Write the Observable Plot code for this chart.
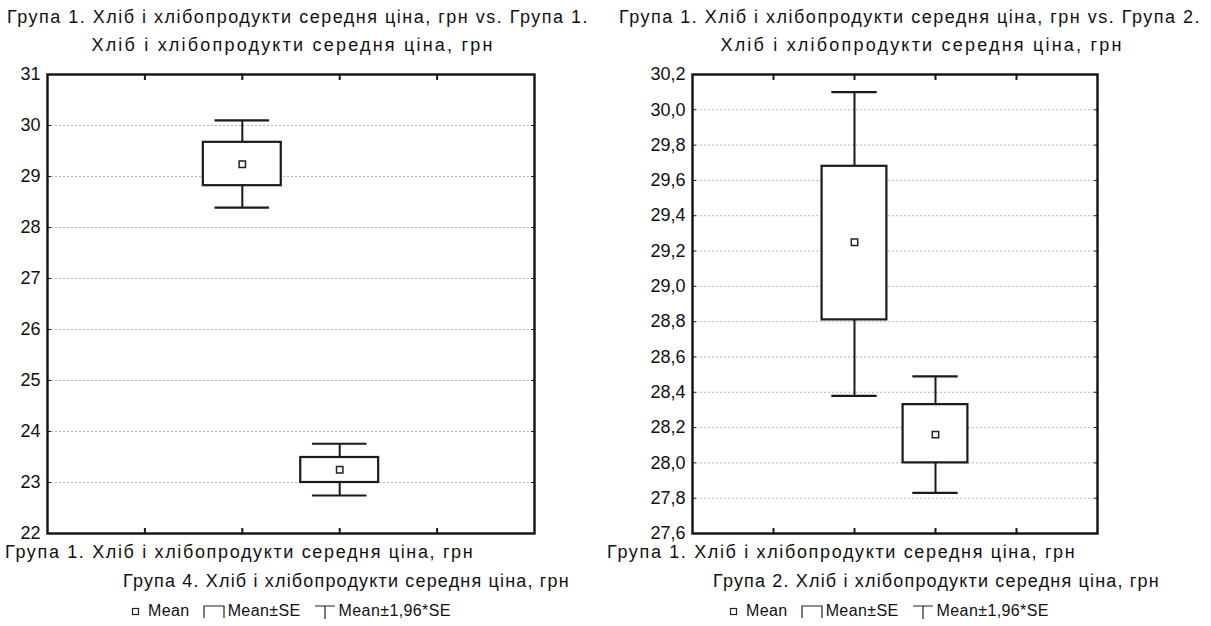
<!DOCTYPE html>
<html>
<head>
<meta charset="utf-8">
<script src="https://cdn.jsdelivr.net/npm/d3@7"></script>
<script src="https://cdn.jsdelivr.net/npm/@observablehq/plot@0.6"></script>
<style>
  html, body { margin: 0; padding: 0; background: #fff; }
  #root { position: relative; width: 1211px; height: 626px; background: #fff; overflow: hidden;
          font-family: "Liberation Sans", Arial, sans-serif; color: #111; }
  .abs { position: absolute; white-space: nowrap; }
  .title { text-align: center; font-size: 18px; line-height: 20px; width: 600px; }
  .ta { letter-spacing: 1.5px; top: 7px; }
  .tb { letter-spacing: 2.2px; top: 35px; }
  .xlab { font-size: 18px; line-height: 18px; letter-spacing: 1.65px; }
  .xlab2 { font-size: 18px; line-height: 18px; letter-spacing: 1.17px; }
  .legend { font-size: 16px; letter-spacing: 0.4px; display: flex; align-items: center; }
  .legend svg { margin: 0 2px; }
  .chart { position: absolute; }
</style>
</head>
<body>
<div id="root">
  <div class="abs title ta" id="t1a" style="left:-2px;"></div>
  <div class="abs title tb" id="t1b" style="left:-7px;"></div>
  <div class="abs title ta" id="t2a" style="left:610px;"></div>
  <div class="abs title tb" id="t2b" style="left:622px;"></div>
  <div class="chart" id="c1" style="left:0;top:60px;"></div>
  <div class="chart" id="c2" style="left:600px;top:60px;"></div>
  <div class="abs xlab" id="x1a" style="left:5px;top:543px;"></div>
  <div class="abs xlab2" id="x1b" style="left:123px;top:572px;"></div>
  <div class="abs xlab" id="x2a" style="left:607px;top:543px;"></div>
  <div class="abs xlab2" id="x2b" style="left:713px;top:572px;"></div>
  <div class="abs legend" id="l1" style="left:128px;top:602px;"></div>
  <div class="abs legend" id="l2" style="left:726px;top:602px;"></div>
</div>
<script>
// ---- Data ----
const varName = "Хліб і хлібопродукти середня ціна, грн";

// Left panel: Група 1 vs. Група 4
const leftGroups = ["Група 1", "Група 4"];
const leftMean   = [29.24, 23.25];
const leftSeLow  = [28.82, 23.00];
const leftSeHigh = [29.67, 23.49];
const leftCiLow  = [28.39, 22.745];
const leftCiHigh = [30.10, 23.76];
const leftYTicks = [22, 23, 24, 25, 26, 27, 28, 29, 30, 31];

// Right panel: Група 1 vs. Група 2
const rightGroups = ["Група 1", "Група 2"];
const rightMean   = [29.25, 28.16];
const rightSeLow  = [28.81, 28.00];
const rightSeHigh = [29.68, 28.33];
const rightCiLow  = [28.38, 27.83];
const rightCiHigh = [30.10, 28.49];
const rightYTicks = [27.6, 27.8, 28.0, 28.2, 28.4, 28.6, 28.8, 29.0, 29.2, 29.4, 29.6, 29.8, 30.0, 30.2];

const xTicks = [1, 2, 3, 4];
const legendLabels = ["Mean", "Mean±SE", "Mean±1,96*SE"];

// ---- Texts ----
document.getElementById("t1a").textContent = `Група 1. ${varName} vs. Група 1.`;
document.getElementById("t1b").textContent = varName;
document.getElementById("t2a").textContent = `Група 1. ${varName} vs. Група 2.`;
document.getElementById("t2b").textContent = varName;
document.getElementById("x1a").textContent = `${leftGroups[0]}. ${varName}`;
document.getElementById("x1b").textContent = `${leftGroups[1]}. ${varName}`;
document.getElementById("x2a").textContent = `${rightGroups[0]}. ${varName}`;
document.getElementById("x2b").textContent = `${rightGroups[1]}. ${varName}`;

function legendHTML() {
  const sq = `<svg width="12" height="12"><rect x="2.5" y="3.5" width="6" height="6" fill="white" stroke="#222" stroke-width="1.2"/></svg>`;
  const box = `<svg width="24" height="16"><path d="M2,15 V3 H22 V15" fill="none" stroke="#222" stroke-width="1.2"/></svg>`;
  const tee = `<svg width="24" height="16"><path d="M2,3 H22 M12,3 V16" fill="none" stroke="#222" stroke-width="1.2"/></svg>`;
  return `${sq}<span style="margin-left:4px;margin-right:10px">${legendLabels[0]}</span>${box}<span style="margin-right:10px">${legendLabels[1]}</span>${tee}<span>${legendLabels[2]}</span>`;
}
document.getElementById("l1").innerHTML = legendHTML();
document.getElementById("l2").innerHTML = legendHTML();

// ---- Charts ----
function panel({groups, mean, seLo, seHi, ciLo, ciHi, yDomain, yTicks, fmt, width, marginLeft, marginRight}) {
  const rows = groups.map((g, i) => ({
    g, pos: i + 2, mean: mean[i], seLo: seLo[i], seHi: seHi[i], ciLo: ciLo[i], ciHi: ciHi[i]
  }));
  const ink = "#1a1a1a";
  return Plot.plot({
    width, height: 480,
    marginLeft, marginRight, marginTop: 14, marginBottom: 7,
    x: {domain: [0, 5], axis: null, label: null},
    y: {domain: yDomain, axis: null, label: null},
    style: {fontFamily: "'Liberation Sans', Arial, sans-serif", fontSize: "18px", color: "#111", background: "white", overflow: "visible"},
    marks: [
      Plot.gridY(yTicks, {stroke: "#b5b5b5", strokeOpacity: 1, strokeDasharray: "2,2", strokeWidth: 1}),
      Plot.ruleX(rows, {x: "pos", y1: "ciLo", y2: "ciHi", stroke: ink, strokeWidth: 2}),
      Plot.ruleY(rows, {y: "ciHi", x1: d => d.pos - 0.28, x2: d => d.pos + 0.28, stroke: ink, strokeWidth: 2.2}),
      Plot.ruleY(rows, {y: "ciLo", x1: d => d.pos - 0.28, x2: d => d.pos + 0.28, stroke: ink, strokeWidth: 2.2}),
      Plot.rect(rows, {x1: d => d.pos - 0.4, x2: d => d.pos + 0.4, y1: "seLo", y2: "seHi", fill: "white", stroke: ink, strokeWidth: 2.2}),
      Plot.dot(rows, {x: "pos", y: "mean", symbol: "square", r: 3.6, fill: "white", stroke: "#222", strokeWidth: 1.5}),
      Plot.axisY(yTicks, {anchor: "left", tickSize: 0, tickPadding: 7, tickFormat: fmt, fontSize: 18, fill: "#111", label: null}),
      Plot.axisY(yTicks, {anchor: "left", tickSize: -4, tickFormat: () => "", stroke: ink, label: null}),
      Plot.axisY(yTicks, {anchor: "right", tickSize: -4, tickFormat: () => "", stroke: ink, label: null}),
      Plot.axisX(xTicks, {anchor: "bottom", tickSize: -5, tickFormat: () => "", stroke: ink, strokeWidth: 2, label: null}),
      Plot.axisX(xTicks, {anchor: "top", tickSize: -5, tickFormat: () => "", stroke: ink, strokeWidth: 2, label: null}),
      Plot.frame({stroke: "#111", strokeWidth: 2.4})
    ]
  });
}

document.getElementById("c1").append(panel({
  groups: leftGroups, mean: leftMean, seLo: leftSeLow, seHi: leftSeHigh, ciLo: leftCiLow, ciHi: leftCiHigh,
  yDomain: [22, 31], yTicks: leftYTicks, fmt: d => String(d),
  width: 600, marginLeft: 47, marginRight: 66
}));
document.getElementById("c2").append(panel({
  groups: rightGroups, mean: rightMean, seLo: rightSeLow, seHi: rightSeHigh, ciLo: rightCiLow, ciHi: rightCiHigh,
  yDomain: [27.6, 30.2], yTicks: rightYTicks, fmt: d => d.toFixed(1).replace(".", ","),
  width: 611, marginLeft: 92, marginRight: 114
}));
</script>
</body>
</html>
